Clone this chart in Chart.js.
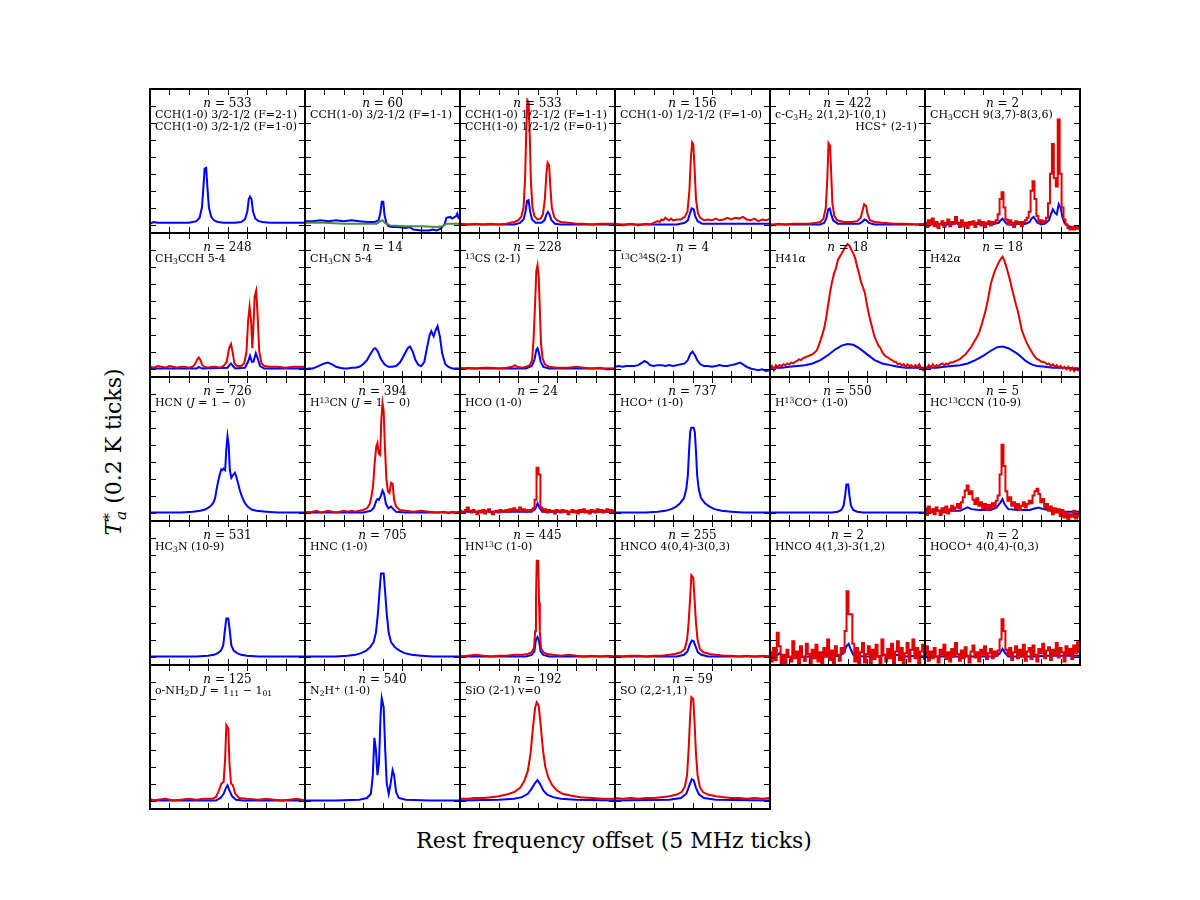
<!DOCTYPE html>
<html>
<head>
<meta charset="utf-8">
<script src="https://cdn.jsdelivr.net/npm/chart.js@4.4.0/dist/chart.umd.min.js"></script>
<style>
body { margin: 0; background: #fff; width: 1200px; height: 900px; position: relative; overflow: hidden; font-family: "DejaVu Serif", serif; }
canvas { position: absolute; }
.lbl { position: absolute; font-size: 11px; white-space: nowrap; color: #000; line-height: 12px; transform: translateY(-50%); }
.num { position: absolute; font-size: 12px; white-space: nowrap; color: #000; line-height: 12px; transform: translate(-50%, -50%); }
sub, sup { font-size: 70%; line-height: 0; position: relative; vertical-align: baseline; }
sup { top: -0.45em; }
sub { top: 0.3em; }
#xtitle { position: absolute; left: 614px; top: 840px; transform: translate(-50%, -50%); font-size: 22px; white-space: nowrap; }
#ytitle { position: absolute; left: 113px; top: 452px; transform: translate(-50%, -50%) rotate(-90deg); font-size: 22px; white-space: nowrap; }
</style>
</head>
<body>
<div id="xtitle">Rest frequency offset (5 MHz ticks)</div>
<div id="ytitle"><i>T</i><sup>*</sup><sub style="margin-left:-0.45em"><i>a</i></sub> (0.2 K ticks)</div>
<script>
// grille des canaux (MHz) pour les spectres bruités
const offsets = [];
for (let v = -20; v <= 20.001; v += 0.5) offsets.push(+v.toFixed(1));
const xTicks = [-15, -10, -5, 0, 5, 10, 15];
const yTicks = [0, 0.2, 0.4, 0.6, 0.8, 1.0, 1.2, 1.4];
const colLeft = [150, 305, 460, 615, 770, 925];
const rowTop = [89, 233, 377, 521, 665];

const lineNames = [
  ["CCH(1-0) 3/2-1/2 (F=2-1)", "CCH(1-0) 3/2-1/2 (F=1-0)"],
  ["CCH(1-0) 3/2-1/2 (F=1-1)"],
  ["CCH(1-0) 1/2-1/2 (F=1-1)", "CCH(1-0) 1/2-1/2 (F=0-1)"],
  ["CCH(1-0) 1/2-1/2 (F=1-0)"],
  ["c-C<sub>3</sub>H<sub>2</sub> 2(1,2)-1(0,1)", "HCS<sup>+</sup> (2-1)"],
  ["CH<sub>3</sub>CCH 9(3,7)-8(3,6)"],
  ["CH<sub>3</sub>CCH 5-4"],
  ["CH<sub>3</sub>CN 5-4"],
  ["<sup>13</sup>CS (2-1)"],
  ["<sup>13</sup>C<sup>34</sup>S(2-1)"],
  ["H41<i>α</i>"],
  ["H42<i>α</i>"],
  ["HCN (<i>J</i> = 1 − 0)"],
  ["H<sup>13</sup>CN (<i>J</i> = 1 − 0)"],
  ["HCO (1-0)"],
  ["HCO<sup>+</sup> (1-0)"],
  ["H<sup>13</sup>CO<sup>+</sup> (1-0)"],
  ["HC<sup>13</sup>CCN (10-9)"],
  ["HC<sub>3</sub>N (10-9)"],
  ["HNC (1-0)"],
  ["HN<sup>13</sup>C (1-0)"],
  ["HNCO 4(0,4)-3(0,3)"],
  ["HNCO 4(1,3)-3(1,2)"],
  ["HOCO<sup>+</sup> 4(0,4)-(0,3)"],
  ["o-NH<sub>2</sub>D <i>J</i> = 1<sub>11</sub> − 1<sub>01</sub>"],
  ["N<sub>2</sub>H<sup>+</sup> (1-0)"],
  ["SiO (2-1) v=0"],
  ["SO (2,2-1,1)"]
];
const spectraCount = [533, 60, 533, 156, 422, 2, 248, 14, 228, 4, 18, 18, 726, 394, 24, 737, 550, 5, 531, 705, 445, 255, 2, 2, 125, 540, 192, 59];

// [MHz, K]
const cchA_blue = [[-20,0.01],[-19,0.03],[-18,0.02],[-16,0.02],[-14,0.02],[-12,0.02],[-10,0.02],[-9,0.03],[-8,0.04],[-7.2,0.08],[-6.6,0.2],[-6.2,0.45],[-5.9,0.66],[-5.5,0.67],[-5.2,0.45],[-4.8,0.2],[-4.2,0.09],[-3.5,0.05],[-2.5,0.03],[-1,0.02],[2,0.02],[3.5,0.03],[4.5,0.06],[5.1,0.15],[5.5,0.3],[5.8,0.33],[6.2,0.3],[6.6,0.15],[7.2,0.07],[8,0.04],[9,0.03],[11,0.02],[14,0.02],[17,0.02],[20,0.02]];
const cchB_blue = [[-20,0.04],[-18,0.04],[-16,0.05],[-14,0.04],[-12,0.05],[-10,0.04],[-8,0.05],[-6,0.04],[-4,0.03],[-2,0.03],[-1,0.05],[-0.5,0.15],[-0.2,0.27],[0.2,0.27],[0.5,0.12],[1,0.02],[1.5,-0.02],[2.5,-0.03],[4,-0.03],[6,-0.04],[7,-0.03],[8,-0.06],[10,-0.07],[12,-0.07],[13,-0.06],[14,-0.07],[15,-0.05],[16,0.0],[16.5,0.08],[17.5,0.09],[18,0.07],[19,0.1],[19.3,0.13],[19.6,0.08],[20,0.1]];
const cchB_green = [[-20,0.02],[-15,0.02],[-10,0.01],[-5,0.01],[-1.5,0.01],[-0.5,0.04],[0,0.05],[0.6,0.02],[2,-0.01],[6,-0.02],[10,-0.02],[14,-0.03],[15.5,-0.02],[16.5,0.01],[18,0.01],[20,0.01]];
const cchC_red = [[-20,0.01],[-18,0.0],[-16,0.01],[-14,0.0],[-12,0.01],[-10,0.0],[-8,0.01],[-7,0.02],[-6,0.03],[-5,0.05],[-4.2,0.09],[-3.6,0.2],[-3.2,0.55],[-2.9,1.1],[-2.6,1.47],[-2.3,1.45],[-2.0,1.05],[-1.7,0.5],[-1.3,0.2],[-0.8,0.1],[0,0.06],[0.8,0.07],[1.4,0.12],[1.9,0.3],[2.3,0.6],[2.6,0.73],[3.0,0.7],[3.3,0.45],[3.7,0.2],[4.3,0.09],[5,0.05],[6,0.03],[8,0.02],[10,0.01],[12,0.01],[14,0.0],[16,0.01],[18,0.01],[20,0.01]];
const cchC_blue = [[-20,0],[-6,0],[-4.5,0.02],[-3.6,0.06],[-3.1,0.15],[-2.7,0.28],[-2.3,0.29],[-1.9,0.15],[-1.4,0.06],[-0.5,0.02],[1,0.02],[1.8,0.05],[2.3,0.12],[2.7,0.15],[3.1,0.12],[3.6,0.05],[4.5,0.01],[6,0],[20,0]];
const cchD_red = [[-20,0.01],[-19,0.0],[-18,-0.01],[-17,0.0],[-16,0.01],[-15,0.0],[-14,-0.01],[-13,0.0],[-12,0.01],[-11,0.0],[-10,0.02],[-9,0.04],[-8.5,0.03],[-8,0.06],[-7.5,0.05],[-7,0.08],[-6.5,0.06],[-6,0.05],[-5.5,0.07],[-5,0.05],[-4,0.06],[-3,0.06],[-2,0.09],[-1.3,0.15],[-0.8,0.4],[-0.4,0.8],[-0.1,0.97],[0.2,0.95],[0.5,0.7],[0.9,0.3],[1.4,0.13],[2,0.08],[3,0.05],[4,0.06],[5,0.05],[6,0.07],[7,0.05],[8,0.06],[9,0.08],[10,0.06],[11,0.08],[12,0.07],[13,0.09],[14,0.06],[15,0.05],[16,0.07],[17,0.04],[18,0.06],[19,0.05],[20,0.07]];
const cchD_blue = [[-20,0.0],[-4,0.0],[-2,0.02],[-1.2,0.05],[-0.6,0.14],[-0.2,0.19],[0.3,0.18],[0.7,0.1],[1.3,0.04],[2.5,0.01],[20,0.01]];
const c3h2_red = [[-20,0.01],[-19.5,-0.01],[-18,0.01],[-16,0.0],[-14,0.01],[-12,0.01],[-10,0.01],[-8,0.02],[-7,0.03],[-6.2,0.07],[-5.6,0.2],[-5.2,0.55],[-4.9,0.96],[-4.5,0.93],[-4.2,0.6],[-3.9,0.25],[-3.4,0.1],[-2.6,0.05],[-1,0.03],[1,0.03],[2.5,0.04],[3.4,0.08],[3.9,0.17],[4.3,0.24],[4.8,0.22],[5.2,0.12],[5.8,0.05],[7,0.03],[9,0.02],[12,0.01],[15,0.01],[18,0.0],[20,0.01]];
const c3h2_blue = [[-20,0.0],[-7,0.0],[-6,0.02],[-5.4,0.08],[-5.0,0.18],[-4.6,0.19],[-4.2,0.12],[-3.7,0.05],[-2.5,0.01],[3,0.01],[3.8,0.03],[4.4,0.06],[4.9,0.05],[5.5,0.02],[7,0.0],[20,0.0]];
// K par canal de 0.5 MHz, de -20 a +20 MHz
const ch3cch9_red = [0.02,-0.03,0.05,0.0,0.07,-0.02,0.03,-0.04,0.01,0.04,-0.03,0.02,0.06,-0.02,0.03,0.01,0.09,0.02,-0.03,0.05,-0.02,0.02,-0.04,0.03,0.0,0.04,-0.03,0.02,0.05,-0.01,0.03,-0.03,0.02,0.04,-0.01,0.03,0.02,0.05,0.12,0.3,
  0.38,0.2,0.06,0.0,0.05,0.02,-0.03,0.04,0.01,0.03,-0.02,0.03,0.05,0.08,0.15,0.4,0.51,0.3,0.1,0.03,0.05,0.02,0.04,0.08,0.25,0.6,0.95,0.55,0.45,1.24,0.6,0.2,0.06,0.0,-0.04,-0.06,-0.03,-0.06,-0.02,-0.05,-0.04];
const ch3cch9_blue = [[-20,0.01],[-19,-0.02],[-18,0.02],[-17,-0.01],[-16,0.01],[-15,-0.02],[-14,0.01],[-13,0.0],[-12,0.02],[-11,-0.01],[-10,0.01],[-9,-0.02],[-8,0.01],[-7,0.0],[-6,0.01],[-5,-0.01],[-4,0.01],[-3,0.0],[-2,0.01],[-1,0.02],[-0.5,0.05],[0,0.07],[0.5,0.04],[1,0.01],[2,0.0],[3,-0.01],[4,0.01],[5,0.0],[6,0.01],[7,0.03],[7.5,0.07],[8,0.09],[8.5,0.06],[9,0.02],[10,0.0],[11,0.01],[12,0.05],[12.5,0.12],[13,0.18],[13.5,0.14],[14,0.12],[14.5,0.24],[15,0.2],[15.5,0.08],[16,0.02],[17,-0.02],[18,-0.03],[19,-0.02],[20,-0.03]];
const ch3cch5_red = [[-20,0.02],[-19,0.01],[-18,0.03],[-17,0.02],[-16,0.01],[-15,0.03],[-14,0.02],[-13,0.01],[-12,0.02],[-11,0.02],[-10,0.01],[-9,0.02],[-8.4,0.05],[-7.8,0.11],[-7.4,0.13],[-7.0,0.1],[-6.5,0.04],[-6,0.02],[-5,0.01],[-4,0.02],[-3,0.02],[-2,0.01],[-1,0.03],[-0.2,0.08],[0.4,0.24],[0.9,0.29],[1.3,0.2],[1.8,0.06],[2.5,0.03],[3.5,0.03],[4.3,0.06],[4.9,0.2],[5.3,0.55],[5.7,0.73],[6.1,0.55],[6.4,0.24],[6.7,0.5],[7.0,0.85],[7.4,0.92],[7.8,0.6],[8.2,0.2],[8.8,0.06],[9.5,0.03],[11,0.02],[13,0.02],[15,0.01],[17,0.02],[19,0.02],[20,0.02]];
const ch3cch5_blue = [[-20,0.0],[-8,0.0],[-7.4,0.02],[-6.5,0.0],[0,0.01],[0.5,0.04],[0.9,0.06],[1.4,0.03],[2,0.0],[4.5,0.01],[5.3,0.08],[5.8,0.15],[6.3,0.08],[6.7,0.08],[7.3,0.18],[7.8,0.12],[8.4,0.03],[9.5,0.0],[20,0.0]];
const ch3cn_blue = [[-20,-0.01],[-19,0.0],[-18,0.0],[-17,0.02],[-16,0.04],[-15,0.06],[-14.1,0.07],[-13,0.05],[-12,0.02],[-11,0.01],[-10,0.0],[-9,0.0],[-8,0.01],[-7,0.01],[-6,0.02],[-5,0.05],[-4,0.1],[-3,0.18],[-2.3,0.23],[-1.8,0.24],[-1.2,0.2],[-0.5,0.12],[0.5,0.05],[1.5,0.02],[2.5,0.02],[3.5,0.03],[4.5,0.07],[5.5,0.15],[6.5,0.24],[7.1,0.26],[7.8,0.2],[8.5,0.1],[9.3,0.04],[10,0.03],[10.8,0.08],[11.5,0.25],[12.2,0.4],[12.6,0.44],[13.2,0.38],[13.7,0.45],[14.2,0.5],[14.8,0.38],[15.4,0.18],[16.2,0.05],[17,0.02],[18,0.0],[19,0.0],[20,0.0]];
const cs13_red = [[-20,0.01],[-19,0.0],[-18,0.01],[-16,0.0],[-14,0.01],[-12,0.01],[-10,0.0],[-8,0.01],[-6.5,0.02],[-5.8,0.04],[-5.2,0.02],[-4,0.01],[-3,0.02],[-2,0.04],[-1.4,0.1],[-1.0,0.35],[-0.6,0.8],[-0.3,1.15],[0,1.22],[0.3,1.1],[0.6,0.7],[0.9,0.3],[1.3,0.12],[1.9,0.05],[3,0.02],[5,0.01],[8,0.01],[10,0.02],[12,0.01],[14,0.0],[16,0.01],[18,-0.01],[20,0.0]];
const cs13_blue = [[-20,0.0],[-3,0.0],[-1.5,0.03],[-0.8,0.1],[-0.3,0.22],[0,0.24],[0.4,0.18],[0.8,0.08],[1.5,0.02],[3,0.0],[20,0.0]];
const c34s_blue = [[-20,0.02],[-19,0.03],[-18,0.02],[-17,0.03],[-16,0.03],[-15,0.03],[-14,0.04],[-13,0.07],[-12.4,0.09],[-11.6,0.07],[-11,0.04],[-10,0.03],[-9,0.04],[-8,0.04],[-7,0.03],[-6,0.04],[-5,0.03],[-4,0.04],[-3,0.05],[-2,0.06],[-1.2,0.1],[-0.6,0.17],[0,0.2],[0.6,0.16],[1.2,0.1],[2,0.05],[3,0.03],[4,0.03],[5,0.02],[6,0.03],[7,0.04],[8,0.03],[9,0.03],[10,0.04],[11,0.05],[12.3,0.07],[13,0.05],[14,0.02],[15,0.0],[16,-0.01],[17,-0.02],[18,-0.01],[19,-0.03],[20,-0.02]];
const h41_red = [0.0,0.03,-0.02,0.04,0.02,0.04,0.03,0.05,0.04,0.06,0.05,0.07,0.06,0.08,0.09,0.11,0.1,0.12,0.13,0.14,0.15,0.16,0.17,0.19,0.21,0.26,0.33,0.4,0.48,0.6,0.75,0.9,1.02,1.12,1.18,1.28,1.32,1.36,1.4,1.44,
  1.47,1.45,1.4,1.36,1.3,1.2,1.12,1.02,0.96,0.89,0.76,0.64,0.55,0.46,0.37,0.32,0.27,0.24,0.19,0.16,0.14,0.13,0.11,0.1,0.08,0.08,0.05,0.06,0.04,0.05,0.02,0.05,0.03,0.04,0.01,0.04,0.02,0.05,0.01,-0.02,0.02];
const h41_blue = [[-20,0.01],[-17,0.01],[-15,0.02],[-13,0.03],[-11,0.04],[-9,0.06],[-7,0.1],[-5,0.16],[-3,0.23],[-1.5,0.27],[0,0.29],[1.5,0.28],[3,0.24],[5,0.17],[7,0.1],[9,0.06],[11,0.04],[13,0.02],[15,0.01],[17,0.01],[20,0.01]];
const h42_red = [0.02,0.0,0.04,0.01,0.05,0.02,0.04,0.03,0.05,0.06,0.04,0.06,0.05,0.07,0.07,0.08,0.09,0.1,0.11,0.13,0.15,0.17,0.2,0.23,0.26,0.3,0.34,0.38,0.43,0.5,0.58,0.66,0.76,0.88,1.0,1.08,1.15,1.2,1.25,1.29,
  1.32,1.27,1.2,1.12,1.03,0.93,0.84,0.75,0.67,0.56,0.45,0.39,0.33,0.28,0.24,0.2,0.16,0.13,0.11,0.1,0.08,0.08,0.07,0.05,0.06,0.03,0.05,0.02,0.04,0.01,0.03,0.0,0.02,-0.01,0.02,-0.02,0.01,-0.03,0.0,-0.02,-0.03];
const h42_blue = [[-20,0.01],[-17,0.01],[-15,0.02],[-13,0.03],[-11,0.04],[-9,0.06],[-7,0.1],[-5,0.15],[-3,0.21],[-1.5,0.25],[0,0.26],[1.5,0.24],[3,0.2],[4,0.17],[5,0.13],[6,0.09],[7,0.06],[8,0.04],[9,0.03],[11,0.02],[13,0.01],[15,0.01],[20,0.0]];
const hcn_blue = [[-20,0.0],[-12,0.0],[-9,0.01],[-7,0.02],[-5.8,0.035],[-4.8,0.06],[-4.1,0.09],[-3.6,0.12],[-3.2,0.17],[-2.8,0.28],[-2.4,0.37],[-2.0,0.45],[-1.6,0.51],[-1.3,0.5],[-1.0,0.52],[-0.6,0.5],[-0.3,0.75],[0,0.9],[0.3,0.8],[0.6,0.5],[1.0,0.41],[1.4,0.44],[1.9,0.47],[2.3,0.42],[2.8,0.33],[3.2,0.26],[3.7,0.19],[4.1,0.15],[4.5,0.11],[5.2,0.07],[6.2,0.035],[7.5,0.02],[10,0.01],[13,0.0],[20,0.0]];
const h13cn_red = [[-20,0.01],[-19,0.0],[-18,0.01],[-17,0.02],[-16,0.0],[-15,0.01],[-14,0.02],[-13,0.01],[-12,0.0],[-11,0.01],[-10,0.02],[-9,0.01],[-8,0.02],[-7,0.01],[-6,0.02],[-5,0.03],[-4,0.05],[-3.3,0.1],[-2.8,0.2],[-2.4,0.33],[-2.0,0.6],[-1.6,0.78],[-1.3,0.82],[-1.0,0.7],[-0.6,0.68],[-0.3,1.1],[0,1.29],[0.3,1.2],[0.6,0.8],[1.0,0.4],[1.4,0.25],[1.8,0.23],[2.2,0.35],[2.6,0.34],[3.0,0.15],[3.5,0.07],[4.5,0.03],[6,0.02],[8,0.01],[10,0.02],[12,0.01],[14,0.0],[16,0.01],[17,-0.01],[18,0.01],[19,0.0],[20,0.01]];
const h13cn_blue = [[-20,0.0],[-5,0.0],[-3,0.02],[-2.2,0.06],[-1.6,0.14],[-1.3,0.16],[-0.9,0.15],[-0.4,0.2],[0,0.26],[0.4,0.22],[0.9,0.1],[1.5,0.05],[2.2,0.07],[2.8,0.04],[3.5,0.01],[6,0.0],[20,0.0]];
const hco_red = [0.02,0.0,0.01,0.03,0.06,0.02,0.0,0.03,0.01,-0.02,0.02,0.0,0.03,-0.01,0.02,0.04,0.0,-0.02,0.01,0.02,0.0,0.03,0.02,0.01,0.03,0.01,0.04,0.02,0.05,0.02,0.03,0.06,0.02,0.04,0.01,0.03,0.02,0.03,0.05,0.15,
  0.53,0.45,0.06,0.02,0.04,0.0,0.03,0.01,0.02,-0.01,0.03,0.02,0.0,0.03,0.01,0.02,-0.02,0.01,0.03,0.0,0.02,-0.01,0.03,0.01,0.04,0.0,0.02,-0.01,0.03,0.02,0.0,0.04,0.01,0.03,0.0,0.02,0.04,0.01,0.03,0.0,0.02];
const hco_blue = [[-20,0.01],[-1.5,0.01],[-0.6,0.04],[0,0.11],[0.5,0.06],[1.2,0.01],[20,0.01]];
const hcop_blue = [[-20,0.0],[-12,0.0],[-9,0.01],[-7,0.02],[-5.5,0.04],[-4.2,0.07],[-3.2,0.11],[-2.2,0.17],[-1.6,0.28],[-1.2,0.44],[-0.9,0.72],[-0.6,0.95],[-0.3,1.0],[0.3,1.0],[0.6,0.95],[0.9,0.72],[1.2,0.44],[1.6,0.28],[2.2,0.17],[3.2,0.11],[4.4,0.07],[5.7,0.04],[7.5,0.02],[10,0.01],[13,0.0],[20,0.0]];
const h13cop_blue = [[-20,0.0],[-4,0.0],[-2.5,0.01],[-1.6,0.03],[-1.0,0.08],[-0.6,0.2],[-0.3,0.33],[0.2,0.33],[0.5,0.2],[0.9,0.08],[1.5,0.03],[2.5,0.01],[4,0.0],[20,0.0]];
const hc13ccn_red = [0.05,-0.03,0.07,0.0,0.04,-0.02,0.06,0.02,-0.03,0.05,0.0,0.07,-0.01,0.04,0.08,0.02,0.06,0.1,0.05,0.12,0.18,0.26,0.32,0.22,0.25,0.15,0.1,0.17,0.08,0.12,0.05,0.1,0.03,0.09,0.04,0.11,0.07,0.14,0.2,0.45,
  0.8,0.55,0.25,0.14,0.18,0.08,0.12,0.05,0.1,0.03,0.08,0.12,0.06,0.1,0.14,0.11,0.2,0.25,0.28,0.22,0.12,0.16,0.05,0.1,0.02,0.07,-0.02,0.05,0.0,0.04,-0.04,0.03,-0.06,0.0,-0.08,-0.02,-0.05,0.02,-0.07,-0.03,-0.05];
const hc13ccn_blue = [[-20,0.02],[-15,0.02],[-11,0.02],[-10,0.04],[-9,0.06],[-8,0.04],[-6,0.03],[-3,0.03],[-1.5,0.06],[-0.5,0.12],[0,0.16],[0.5,0.1],[1.5,0.04],[4,0.03],[7,0.03],[8.5,0.05],[9.3,0.06],[10.5,0.04],[13,0.02],[16,0.01],[20,0.01]];
const hc3n_blue = [[-20,0.0],[-8,0.0],[-5,0.01],[-3.5,0.02],[-2.5,0.04],[-1.7,0.07],[-1.1,0.13],[-0.7,0.3],[-0.3,0.45],[0.2,0.45],[0.6,0.3],[1.0,0.13],[1.6,0.07],[2.5,0.04],[3.5,0.02],[5,0.01],[8,0.0],[20,0.0]];
const hnc_blue = [[-20,0.0],[-12,0.0],[-9,0.01],[-7,0.02],[-5.5,0.04],[-4.2,0.07],[-3.2,0.11],[-2.3,0.17],[-1.7,0.28],[-1.2,0.5],[-0.8,0.75],[-0.4,0.98],[0.3,0.98],[0.7,0.75],[1.1,0.5],[1.6,0.28],[2.2,0.17],[3.2,0.11],[4.4,0.07],[5.7,0.04],[7.5,0.02],[10,0.01],[13,0.0],[20,0.0]];
const hn13c_red = [[-20,0.01],[-19,0.0],[-18,0.01],[-16,0.02],[-14,0.01],[-12,0.0],[-10,0.01],[-8,0.01],[-6,0.02],[-4,0.02],[-2.5,0.03],[-1.5,0.05],[-0.9,0.1],[-0.6,0.3],[-0.4,0.64],[-0.2,1.13],[0.2,1.13],[0.4,0.64],[0.6,0.3],[0.9,0.1],[1.5,0.05],[2.5,0.03],[4,0.02],[6,0.01],[8,0.02],[10,0.01],[12,0.0],[14,0.01],[16,0.0],[18,0.01],[20,0.0]];
const hn13c_blue = [[-20,0.0],[-3,0.0],[-1.5,0.02],[-0.8,0.06],[-0.4,0.2],[0,0.23],[0.4,0.18],[0.8,0.06],[1.5,0.02],[3,0.0],[20,0.0]];
const hnco404_red = [[-20,0.01],[-18,0.0],[-16,0.01],[-14,0.01],[-12,0.0],[-10,0.01],[-8,0.01],[-6,0.02],[-4.5,0.03],[-3,0.05],[-2,0.09],[-1.4,0.2],[-1.0,0.4],[-0.6,0.7],[-0.3,0.96],[0.2,0.93],[0.5,0.7],[0.9,0.4],[1.3,0.2],[1.9,0.09],[2.8,0.05],[4.5,0.03],[6,0.02],[8,0.01],[10,0.01],[12,0.0],[14,0.01],[16,0.0],[18,0.01],[20,0.0]];
const hnco404_blue = [[-20,0.0],[-4,0.0],[-2.2,0.02],[-1.3,0.06],[-0.7,0.14],[-0.2,0.19],[0.3,0.18],[0.8,0.12],[1.4,0.05],[2.3,0.02],[4,0.0],[20,0.0]];
const hnco413_red = [0.05,-0.06,0.1,-0.04,0.28,0.12,-0.08,0.02,-0.1,0.08,0.0,-0.06,0.18,-0.02,0.06,-0.1,0.12,0.0,-0.05,0.15,0.03,-0.08,0.08,-0.02,0.14,-0.06,0.05,-0.09,0.1,0.0,0.2,-0.04,0.07,-0.08,0.12,0.02,-0.05,0.1,0.05,0.3,
  0.77,0.5,0.5,0.15,-0.06,0.1,-0.1,0.05,0.16,-0.07,0.03,0.12,-0.09,0.08,-0.03,0.14,0.0,-0.08,0.2,0.02,-0.06,0.09,-0.02,0.15,-0.1,0.06,0.18,-0.04,0.1,-0.08,0.04,0.16,-0.06,0.08,0.2,-0.02,0.1,-0.09,0.06,0.14,-0.03];
const hnco413_blue = [[-20,0.01],[-18,0.02],[-17.5,0.04],[-16.5,0.0],[-14,-0.01],[-10,0.0],[-5,0.0],[-2,0.01],[-1,0.04],[-0.3,0.12],[0.3,0.15],[0.9,0.08],[1.5,0.02],[4,0.0],[8,0.0],[10,0.02],[11.4,0.05],[12.5,0.02],[15,0.0],[18,0.01],[20,0.0]];
const hocop_red = [0.02,0.12,-0.05,0.06,-0.02,0.1,0.0,-0.07,0.08,0.02,0.14,-0.03,0.05,-0.06,0.09,0.0,0.16,0.03,-0.05,0.07,-0.02,0.11,0.01,-0.07,0.06,0.13,-0.01,0.05,-0.06,0.08,0.02,0.12,-0.03,0.04,0.09,-0.02,0.06,0.01,0.07,0.2,
  0.44,0.3,0.08,0.02,0.1,-0.04,0.05,0.12,-0.02,0.08,0.0,0.14,-0.05,0.06,0.1,-0.03,0.13,0.02,-0.06,0.09,0.04,0.15,-0.02,0.07,0.11,-0.04,0.08,0.03,0.16,-0.01,0.1,0.05,-0.06,0.12,0.02,0.09,-0.03,0.13,0.04,0.17,0.05];
const hocop_blue = [[-20,0.0],[-15,0.0],[-2,0.0],[-0.8,0.03],[0,0.09],[0.7,0.04],[1.5,0.0],[8,0.0],[12,0.01],[20,0.01]];
const nh2d_red = [[-20,0.02],[-19,0.0],[-18,0.01],[-16,0.02],[-14,0.0],[-12,0.01],[-10,0.02],[-8,0.01],[-6,0.02],[-4,0.02],[-3,0.04],[-2.2,0.12],[-1.6,0.2],[-1.0,0.22],[-0.6,0.5],[-0.3,0.89],[0.2,0.85],[0.5,0.45],[0.9,0.2],[1.4,0.18],[2,0.08],[3,0.03],[5,0.02],[8,0.01],[10,0.02],[12,0.01],[14,0.0],[16,0.01],[18,0.02],[20,0.0]];
const nh2d_blue = [[-20,0.0],[-3,0.0],[-1.8,0.03],[-1,0.08],[-0.4,0.15],[0,0.18],[0.5,0.12],[1.2,0.05],[2.2,0.01],[4,0.0],[20,0.0]];
const n2hp_blue = [[-20,0.0],[-12,0.0],[-6,0.01],[-4,0.03],[-3,0.08],[-2.5,0.3],[-2.1,0.74],[-1.7,0.6],[-1.3,0.3],[-0.9,0.45],[-0.5,1.0],[-0.2,1.21],[0.3,1.1],[0.7,0.6],[1.1,0.2],[1.6,0.08],[2.1,0.2],[2.6,0.36],[3.0,0.3],[3.5,0.1],[4.2,0.03],[6,0.01],[12,0.0],[20,0.0]];
const sio_red = [[-20,0.02],[-18,0.02],[-16,0.03],[-14,0.03],[-12,0.04],[-10,0.05],[-8,0.07],[-6,0.1],[-4.5,0.15],[-3.5,0.22],[-2.5,0.35],[-1.8,0.55],[-1.2,0.85],[-0.6,1.1],[-0.2,1.16],[0.3,1.12],[0.8,0.9],[1.4,0.6],[2.0,0.4],[2.8,0.27],[3.8,0.18],[5,0.12],[6.5,0.08],[8.5,0.06],[11,0.04],[14,0.03],[17,0.02],[20,0.02]];
const sio_blue = [[-20,0.0],[-10,0.01],[-6,0.02],[-4,0.04],[-2.5,0.08],[-1.5,0.14],[-0.6,0.21],[0,0.24],[0.6,0.2],[1.5,0.12],[2.5,0.07],[4,0.04],[6,0.02],[10,0.01],[20,0.0]];
const so_red = [[-20,0.03],[-18,0.02],[-16,0.03],[-14,0.02],[-12,0.03],[-10,0.03],[-8,0.04],[-6,0.05],[-4,0.07],[-2.8,0.1],[-2,0.16],[-1.4,0.3],[-1.0,0.6],[-0.6,1.0],[-0.3,1.22],[0.2,1.2],[0.5,0.95],[0.9,0.55],[1.3,0.3],[1.9,0.16],[2.7,0.1],[4,0.07],[6,0.05],[8,0.04],[10,0.03],[12,0.03],[14,0.02],[16,0.03],[18,0.02],[20,0.03]];
const so_blue = [[-20,0.0],[-6,0.01],[-3,0.03],[-1.6,0.08],[-0.8,0.18],[-0.2,0.25],[0.3,0.24],[0.9,0.15],[1.7,0.07],[3,0.03],[6,0.01],[20,0.0]];

const RED = '#e00000', BLUE = '#0000ff', GREEN = '#4c8c3c';

function pts(list) { return list.map(p => ({x: p[0], y: p[1]})); }
function chans(list) { return list.map((y, i) => ({x: offsets[i], y: y})); }
// step = dessin en marches pour les canaux bruités
function red(list, mode) { return {data: mode ? chans(list) : pts(list), color: RED, stepped: mode === 'step'}; }
function blue(list) { return {data: pts(list), color: BLUE, stepped: false}; }

// un spectre par case, rouge au-dessus
const panelSeries = [
  [blue(cchA_blue)],
  [{data: pts(cchB_green), color: GREEN, stepped: false}, blue(cchB_blue)],
  [red(cchC_red), blue(cchC_blue)],
  [red(cchD_red), blue(cchD_blue)],
  [red(c3h2_red), blue(c3h2_blue)],
  [red(ch3cch9_red, 'step'), blue(ch3cch9_blue)],
  [red(ch3cch5_red), blue(ch3cch5_blue)],
  [blue(ch3cn_blue)],
  [red(cs13_red), blue(cs13_blue)],
  [blue(c34s_blue)],
  [red(h41_red, 'line'), blue(h41_blue)],
  [red(h42_red, 'line'), blue(h42_blue)],
  [blue(hcn_blue)],
  [red(h13cn_red), blue(h13cn_blue)],
  [red(hco_red, 'step'), blue(hco_blue)],
  [blue(hcop_blue)],
  [blue(h13cop_blue)],
  [red(hc13ccn_red, 'step'), blue(hc13ccn_blue)],
  [blue(hc3n_blue)],
  [blue(hnc_blue)],
  [red(hn13c_red), blue(hn13c_blue)],
  [red(hnco404_red), blue(hnco404_blue)],
  [red(hnco413_red, 'step'), blue(hnco413_blue)],
  [red(hocop_red, 'step'), blue(hocop_blue)],
  [red(nh2d_red), blue(nh2d_blue)],
  [blue(n2hp_blue)],
  [red(sio_red), blue(sio_blue)],
  [red(so_red), blue(so_blue)]
];

const frameTicks = {
  id: 'frameTicks',
  afterDraw(chart) {
    const ctx = chart.ctx, a = chart.chartArea;
    const x = chart.scales.x, y = chart.scales.y;
    ctx.save();
    ctx.strokeStyle = '#000';
    ctx.lineWidth = 1;
    ctx.beginPath();
    xTicks.forEach(v => {
      const px = Math.round(x.getPixelForValue(v)) + 0.5;
      ctx.moveTo(px, a.bottom); ctx.lineTo(px, a.bottom - 6);
      ctx.moveTo(px, a.top); ctx.lineTo(px, a.top + 6);
    });
    yTicks.forEach(v => {
      const py = Math.round(y.getPixelForValue(v)) + 0.5;
      ctx.moveTo(a.left, py); ctx.lineTo(a.left + 6, py);
      ctx.moveTo(a.right, py); ctx.lineTo(a.right - 6, py);
    });
    ctx.stroke();
    ctx.lineWidth = 2;
    ctx.strokeRect(a.left, a.top, a.right - a.left, a.bottom - a.top);
    ctx.restore();
  }
};

panelSeries.forEach((series, i) => {
  const left = colLeft[i % 6], top = rowTop[Math.floor(i / 6)];
  const canvas = document.createElement('canvas');
  canvas.width = 157; canvas.height = 146;
  canvas.style.left = (left - 1) + 'px';
  canvas.style.top = (top - 1) + 'px';
  document.body.appendChild(canvas);

  new Chart(canvas, {
    type: 'line',
    data: {
      datasets: series.map(s => ({
        data: s.data, borderColor: s.color, borderWidth: 2, pointRadius: 0,
        fill: false, tension: 0, stepped: s.stepped ? 'middle' : false
      }))
    },
    options: {
      responsive: false, animation: false, events: [],
      layout: { padding: 1 },
      plugins: { legend: { display: false }, tooltip: { enabled: false } },
      scales: {
        x: { type: 'linear', min: -20, max: 20, display: false },
        y: { min: -0.1, max: 1.6, display: false }
      }
    },
    plugins: [frameTicks]
  });

  const num = document.createElement('div');
  num.className = 'num';
  num.innerHTML = '<i>n</i> = ' + spectraCount[i];
  num.style.left = (left + 77.5) + 'px';
  num.style.top = (top + 14) + 'px';
  document.body.appendChild(num);

  lineNames[i].forEach((txt, k) => {
    const d = document.createElement('div');
    d.className = 'lbl';
    d.innerHTML = txt;
    d.style.top = (top + 26 + k * 12) + 'px';
    if (k === 1 && i === 4) { d.style.right = (1200 - left - 147) + 'px'; }
    else { d.style.left = (left + 5) + 'px'; }
    document.body.appendChild(d);
  });
});
</script>
</body>
</html>
